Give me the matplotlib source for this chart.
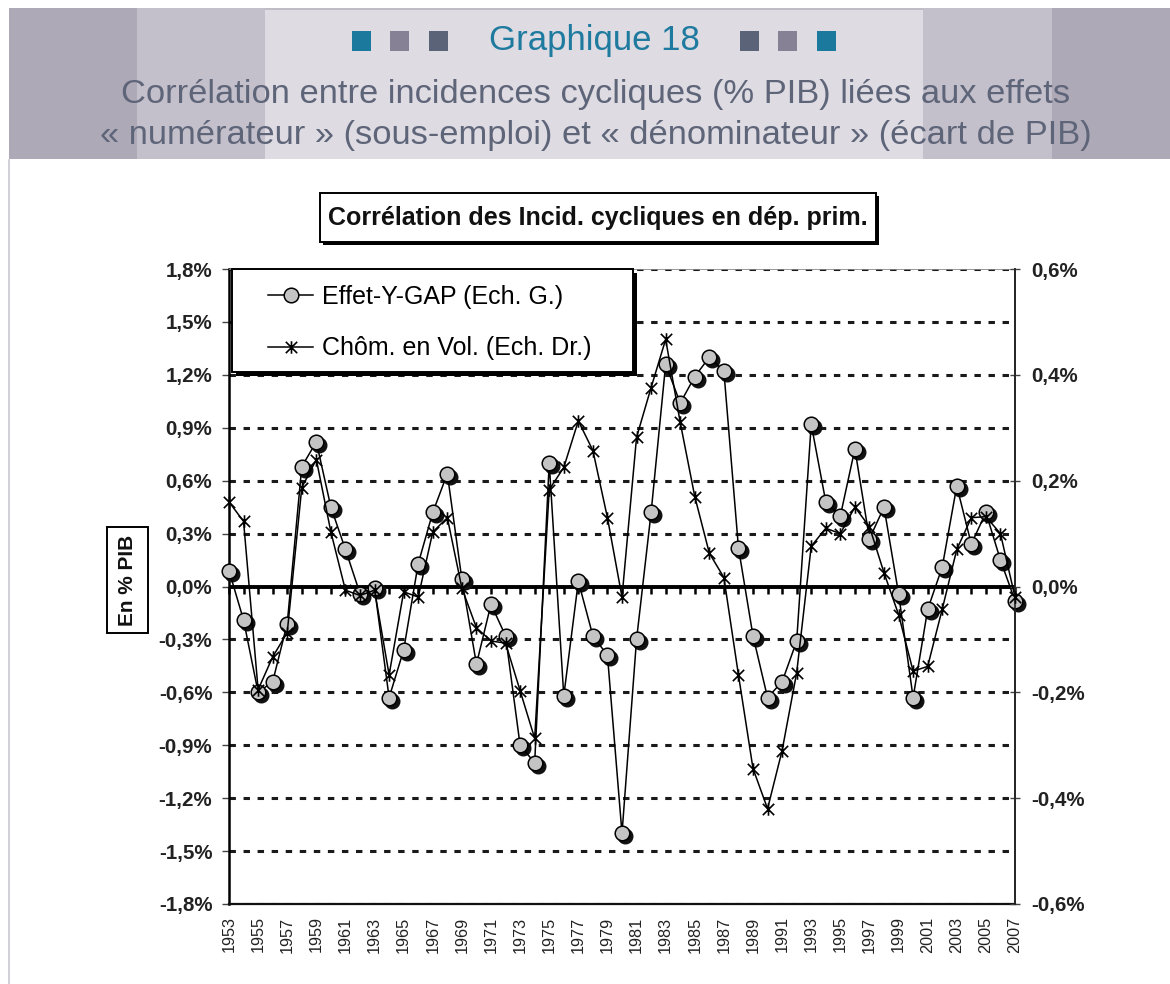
import matplotlib
matplotlib.use('Agg')
import matplotlib.pyplot as plt
from matplotlib.patches import Rectangle
from matplotlib.path import Path
import matplotlib.transforms as mtransforms

plt.rcParams['font.family'] = ['Liberation Sans', 'DejaVu Sans']

# ---------------- data ----------------
years = list(range(1953, 2008))
gap_effect = [0.09, -0.19, -0.60, -0.54, -0.21, 0.68, 0.82, 0.45, 0.21, -0.04,
              -0.01, -0.63, -0.36, 0.13, 0.42, 0.64, 0.04, -0.44, -0.10, -0.28,
              -0.90, -1.00, 0.70, -0.62, 0.03, -0.28, -0.39, -1.40, -0.30, 0.42,
              1.26, 1.04, 1.19, 1.30, 1.22, 0.22, -0.28, -0.63, -0.54, -0.31,
              0.92, 0.48, 0.40, 0.78, 0.27, 0.45, -0.04, -0.63, -0.13, 0.11,
              0.57, 0.24, 0.42, 0.15, -0.08]
unemp_effect = [0.160, 0.123, -0.195, -0.133, -0.087, 0.187, 0.240, 0.103, -0.007, -0.017,
                -0.007, -0.167, -0.010, -0.020, 0.103, 0.130, -0.003, -0.078, -0.103, -0.107,
                -0.197, -0.287, 0.183, 0.225, 0.313, 0.257, 0.130, -0.020, 0.282, 0.376,
                0.467, 0.310, 0.170, 0.063, 0.017, -0.167, -0.344, -0.420, -0.310, -0.163,
                0.076, 0.110, 0.100, 0.150, 0.113, 0.026, -0.053, -0.160, -0.151, -0.043,
                0.070, 0.130, 0.132, 0.100, -0.020]
left_ticks = [-1.8, -1.5, -1.2, -0.9, -0.6, -0.3, 0.0, 0.3, 0.6, 0.9, 1.2, 1.5, 1.8]
right_ticks = [-0.6, -0.4, -0.2, 0.0, 0.2, 0.4, 0.6]
xtick_years = list(range(1953, 2008, 2))
label_gap = "Effet-Y-GAP (Ech. G.)"
label_unemp = "Chôm. en Vol. (Ech. Dr.)"
header_title = "Graphique 18"
header_sub1 = "Corrélation entre incidences cycliques (% PIB) liées aux effets"
header_sub2 = "« numérateur » (sous-emploi) et « dénominateur » (écart de PIB)"
chart_title = "Corrélation des Incid. cycliques en dép. prim."
ylabel = "En % PIB"

W, H = 1170, 984
fig = plt.figure(figsize=(W / 100, H / 100), dpi=100)
fig.patch.set_facecolor('white')


def fx(x):
    return x / W


def fy(y):
    return 1 - y / H


def rect(x0, y0, x1, y1, zorder=1, **kw):
    r = Rectangle((fx(x0), fy(y1)), fx(x1) - fx(x0), fy(y0) - fy(y1),
                  transform=fig.transFigure, zorder=zorder, **kw)
    fig.add_artist(r)
    return r


def fmt(v):
    return (f"{v:.1f}%").replace('.', ',')


# ---------------- header band ----------------
dark, mid, light = '#AEA9B7', '#C4C0CB', '#DEDBE2'
rect(9, 8, 137, 159, fc=dark, lw=0)
rect(137, 8, 265, 159, fc=mid, lw=0)
rect(265, 8, 923, 159, fc=light, lw=0)
rect(923, 8, 1052, 159, fc=mid, lw=0)
rect(1052, 8, 1170, 159, fc=dark, lw=0)
rect(265, 8, 923, 10, fc='#C0BCC6', lw=0)

teal, mauve, slate = '#1B799D', '#878196', '#5B6379'
for (x0, c) in [(352, teal), (390, mauve), (429, slate), (740, slate), (778, mauve), (817, teal)]:
    rect(x0, 31, x0 + 19, 51, fc=c, lw=0)

fig.text(fx(594.5), fy(50), header_title, ha='center', va='baseline',
         fontsize=25, color='#1E7A9E')
fig.text(fx(595.5), fy(103), header_sub1, ha='center', va='baseline',
         fontsize=24.8, color='#5E6579')
fig.text(fx(595.5), fy(144), header_sub2, ha='center', va='baseline',
         fontsize=24.8, color='#5E6579')

# left border of panel
fig.add_artist(plt.Line2D([fx(9), fx(9)], [fy(160), fy(984)], transform=fig.transFigure,
                          color='#C8C6D0', lw=1.2))

# ---------------- axes ----------------
ax_l, ax_r, ax_t, ax_b = 229, 1015, 269, 904
ax = fig.add_axes([fx(ax_l), fy(ax_b), fx(ax_r) - fx(ax_l), fy(ax_t) - fy(ax_b)])
ax.set_xlim(1953, 2007)
ax.set_ylim(-1.8, 1.8)
ax.set_facecolor('white')

for v in left_ticks:
    if v != 0:
        ax.axhline(v, color='#1a1a1a', lw=2.2, dashes=(2.1, 2.5), zorder=1)
ax.axhline(0, color='black', lw=2.8, zorder=2)
ax.plot(years, [0] * len(years), ls='none', marker=3, ms=5, mew=1.8, color='black',
        zorder=2, clip_on=False)

shadow_tr = mtransforms.offset_copy(ax.transData, fig=fig, x=3, y=-3, units='dots')
ax.plot(years, gap_effect, ls='none', marker='o', ms=10.5, mfc='#111111', mec='#111111',
        transform=shadow_tr, zorder=3, clip_on=False)
l1, = ax.plot(years, gap_effect, color='black', lw=1.1, marker='o', ms=10.5,
              mfc='#C4C4C4', mec='black', mew=1.1, zorder=4, clip_on=False)

ax.set_yticks(left_ticks)
ax.set_yticklabels([fmt(v) for v in left_ticks], fontsize=14.8, fontweight='bold', color='#222222')
ax.tick_params(axis='y', direction='out', length=5, width=1, color='#444444', pad=7)
ax.set_xticks(xtick_years)
ax.set_xticklabels([str(y) for y in xtick_years], rotation=90, fontsize=11.7, color='#222222')
ax.tick_params(axis='x', length=0, pad=9)

ax.spines['left'].set_linewidth(1.8)
ax.spines['left'].set_color('black')
ax.spines['bottom'].set_linewidth(1.6)
ax.spines['bottom'].set_color('#111111')
ax.spines['top'].set_linewidth(0.6)
ax.spines['top'].set_color('#888888')
ax.spines['right'].set_linewidth(1.2)
ax.spines['right'].set_color('#222222')

ax2 = ax.twinx()
ax2.set_ylim(-0.6, 0.6)
star = Path([(-1, -1), (1, 1), (-1, 1), (1, -1), (0, -1.1), (0, 1.1)],
            [Path.MOVETO, Path.LINETO, Path.MOVETO, Path.LINETO, Path.MOVETO, Path.LINETO])
l2, = ax2.plot(years, unemp_effect, color='black', lw=1.1, marker=star, ms=9,
               mfc='none', mec='black', mew=1.2, zorder=4, clip_on=False)
ax2.set_yticks(right_ticks)
ax2.set_yticklabels([fmt(v) for v in right_ticks], fontsize=14.8, fontweight='bold', color='#222222')
ax2.tick_params(axis='y', direction='inout', length=7, width=1, color='#444444', pad=8)
for s in ['left', 'top', 'bottom']:
    ax2.spines[s].set_visible(False)
ax2.spines['right'].set_linewidth(1.2)
ax2.spines['right'].set_color('#222222')

# ---------------- legend ----------------
rect(236, 273, 637, 376, fc='black', lw=0, zorder=2)
rect(232, 269, 633, 372, fc='white', ec='black', lw=1.4, zorder=3)
fig.legend([l1, l2], [label_gap, label_unemp], loc='upper left',
           bbox_to_anchor=(fx(268), fy(285)), bbox_transform=fig.transFigure,
           frameon=False, borderpad=0, borderaxespad=0, fontsize=18,
           handlelength=1.8, handletextpad=0.35, labelspacing=1.1)

# ---------------- chart title ----------------
rect(323, 196, 879, 245, fc='black', lw=0, zorder=2)
rect(320, 193, 876, 242, fc='white', ec='black', lw=1.4, zorder=3)
fig.text(fx(598), fy(218), chart_title, ha='center', va='center', fontsize=18,
         fontweight='bold', color='#111111', zorder=4)

# ---------------- y label ----------------
rect(107, 527, 148, 633, fc='white', ec='black', lw=1.4, zorder=3)
fig.text(fx(127.5), fy(580), ylabel, ha='center', va='center', rotation=90,
         fontsize=15, fontweight='bold', color='#111111', zorder=4)

fig.savefig('out.png', dpi=100)
